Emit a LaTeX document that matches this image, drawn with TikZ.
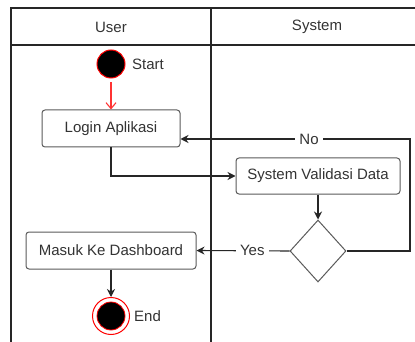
\documentclass[tikz,border=0pt]{standalone}
\usepackage{fontspec}
\setmainfont{Liberation Sans}
\usetikzlibrary{arrows.meta,shapes.geometric}
\definecolor{txt}{HTML}{333333}
\definecolor{boxline}{HTML}{5A5A5A}
\definecolor{flowred}{HTML}{FF3333}
\tikzset{
  lane/.style={draw=black!85, line width=1.2pt},
  actbox/.style={draw=boxline, line width=1pt, rounded corners=3pt, fill=white,
    text=txt, font=\fontsize{15}{18}\selectfont, inner sep=0pt},
  decbox/.style={diamond, draw=boxline, line width=1pt, fill=white, inner sep=0pt,
    minimum width=56pt, minimum height=62pt},
  flow/.style={draw=black!85, line width=1.1pt, -{Stealth[length=8pt,width=8pt]}},
  startflow/.style={draw=flowred, line width=1.1pt, -{Straight Barb[length=6pt,width=10pt]}},
  lbl/.style={text=txt, font=\fontsize{15}{18}\selectfont, inner sep=1pt},
  edgelbl/.style={lbl, fill=white, inner sep=4pt},
}
\begin{document}
\begin{tikzpicture}[x=1pt, y=-1pt]
  \useasboundingbox (0,0) rectangle (415,342);
  % swimlane frame
  \draw[lane] (415,8) -- (11,8) -- (11,342);
  \draw[lane] (11,45) -- (415,45);
  \draw[lane] (211,8) -- (211,342);
  \node[lbl] (huser) at (111,27) {User};
  \node[lbl] (hsys) at (317,27) {System};

  % nodes
  \node[circle, fill=black, draw=red, line width=1pt, minimum size=28pt, inner sep=0pt] (start) at (111,64) {};
  \node[lbl, anchor=west] (startlbl) at (131,64) {Start};
  \node[actbox, minimum width=138pt, minimum height=37pt] (login) at (111,128.5) {Login Aplikasi};
  \node[actbox, minimum width=164pt, minimum height=36pt] (sys) at (318,176) {System Validasi Data};
  \node[decbox] (dec) at (318,251) {};
  \node[actbox, minimum width=170pt, minimum height=37pt] (masuk) at (111,250.5) {Masuk Ke Dashboard};
  \node[circle, draw=red, line width=1pt, minimum size=37pt, inner sep=0pt] (end) at (111,316) {};
  \node[circle, fill=black, draw=red, line width=0.8pt, minimum size=28pt, inner sep=0pt] (endcore) at (111,316) {};
  \node[lbl, anchor=west] (endlbl) at (133,316) {End};

  \coordinate (loopc) at (410,139);

  % connectors
  \draw[startflow, shorten <=4pt] (start) -- (login);
  \draw[flow] (login.south) |- (sys.west);
  \draw[flow] (sys.south) -- (dec.north);
  \draw[flow] (dec.west) -- node[edgelbl, pos=0.4] {Yes} (masuk.east);
  \draw[flow] (dec.east) -| (loopc) -- node[edgelbl, pos=0.44] {No} (login.east |- loopc);
  \draw[flow] (masuk.south) -- (end.north);
\end{tikzpicture}
\end{document}
